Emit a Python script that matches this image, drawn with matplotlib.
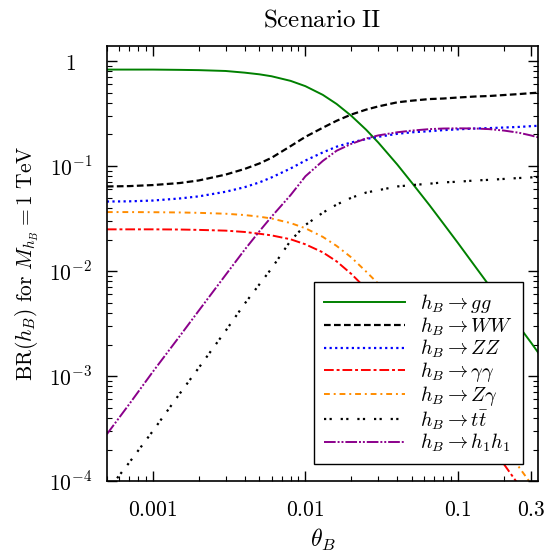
import matplotlib
matplotlib.use('Agg')
import matplotlib.pyplot as plt
import matplotlib.ticker as mticker

plt.rcParams['mathtext.fontset'] = 'cm'
plt.rcParams['font.family'] = 'serif'
plt.rcParams['font.serif'] = ['DejaVu Serif']

theta = [0.0005, 0.0007, 0.001, 0.0015, 0.002, 0.003, 0.004, 0.005, 0.006, 0.008,
         0.01, 0.013, 0.016, 0.02, 0.025, 0.03, 0.04, 0.05, 0.065, 0.08,
         0.1, 0.13, 0.16, 0.2, 0.25, 0.3, 0.335]

br_gg = [0.83, 0.83, 0.83, 0.825, 0.82, 0.805, 0.776, 0.748, 0.717, 0.648,
         0.577, 0.477, 0.391, 0.301, 0.222, 0.168, 0.1035, 0.069, 0.0425, 0.0285,
         0.0185, 0.011, 0.0073, 0.0047, 0.003, 0.0021, 0.00168]
br_ww = [0.064, 0.0645, 0.066, 0.069, 0.073, 0.083, 0.094, 0.106, 0.12, 0.155,
         0.19, 0.232, 0.27, 0.31, 0.345, 0.37, 0.405, 0.42, 0.435, 0.44,
         0.45, 0.46, 0.465, 0.475, 0.485, 0.495, 0.50]
br_zz = [0.046, 0.0462, 0.047, 0.0492, 0.0515, 0.057, 0.063, 0.07, 0.078, 0.095,
         0.113, 0.135, 0.153, 0.168, 0.181, 0.19, 0.203, 0.21, 0.215, 0.22,
         0.224, 0.228, 0.23, 0.233, 0.236, 0.24, 0.242]
br_aa = [0.025, 0.025, 0.025, 0.0249, 0.0247, 0.0243, 0.0236, 0.0227, 0.0219, 0.0201,
         0.018, 0.0151, 0.0124, 0.0094, 0.0068, 0.0051, 0.0031, 0.0021, 0.00127, 0.00085,
         0.00057, 0.00034, 0.00022, 0.000145, 0.000092, 0.00006, 0.000048]
br_za = [0.0365, 0.0365, 0.0364, 0.0362, 0.0359, 0.0352, 0.0342, 0.033, 0.0317, 0.0287,
         0.0256, 0.0212, 0.0174, 0.0135, 0.0099, 0.0076, 0.0047, 0.0031, 0.00193, 0.00129,
         0.00083, 0.0005, 0.00033, 0.000213, 0.000137, 0.000095, 0.000076]
br_tt = [0.00008, 0.00015, 0.0003, 0.00068, 0.0012, 0.0027, 0.0049, 0.0075, 0.0106, 0.0195,
         0.0275, 0.036, 0.043, 0.050, 0.056, 0.059, 0.064, 0.066, 0.068, 0.07,
         0.071, 0.073, 0.074, 0.0755, 0.077, 0.078, 0.079]
br_hh = [0.00028, 0.00054, 0.0011, 0.0024, 0.0042, 0.0092, 0.016, 0.024, 0.033, 0.053,
         0.08, 0.112, 0.14, 0.163, 0.183, 0.196, 0.21, 0.218, 0.225, 0.228,
         0.229, 0.228, 0.225, 0.218, 0.208, 0.196, 0.188]

fig = plt.figure(figsize=(5.48, 5.55), dpi=100)
ax = fig.add_axes([0.195, 0.133, 0.787, 0.784])

ax.plot(theta, br_gg, color='green', lw=1.4, ls='-', label=r'$h_B \rightarrow gg$')
ax.plot(theta, br_ww, color='black', lw=1.6, ls=(0, (3, 1.5)), label=r'$h_B \rightarrow WW$')
ax.plot(theta, br_zz, color='blue', lw=1.6, ls=(0, (1, 1.5)), label=r'$h_B \rightarrow ZZ$')
ax.plot(theta, br_aa, color='red', lw=1.4, ls=(0, (5, 1.5, 1.5, 1.5)), label=r'$h_B \rightarrow \gamma\gamma$')
ax.plot(theta, br_za, color='darkorange', lw=1.4, ls=(0, (3, 2, 1, 2)), label=r'$h_B \rightarrow Z\gamma$')
ax.plot(theta, br_tt, color='black', lw=1.6, ls=(0, (1, 1.5, 1, 4)), label=r'$h_B \rightarrow t\bar{t}$')
ax.plot(theta, br_hh, color='darkmagenta', lw=1.4, ls=(0, (6, 1, 1, 1, 1, 1)), label=r'$h_B \rightarrow h_1 h_1$')

ax.set_xscale('log')
ax.set_yscale('log')
ax.set_xlim(0.0005, 0.335)
ax.set_ylim(1e-4, 1.39)

ax.xaxis.set_major_locator(mticker.FixedLocator([0.001, 0.01, 0.1, 0.3]))
ax.xaxis.set_major_formatter(mticker.FixedFormatter([r'$0.001$', r'$0.01$', r'$0.1$', r'$0.3$']))
ax.xaxis.set_minor_locator(mticker.LogLocator(base=10, subs=range(2, 10), numticks=20))
ax.xaxis.set_minor_formatter(mticker.NullFormatter())
ax.yaxis.set_major_locator(mticker.FixedLocator([1e-4, 1e-3, 1e-2, 1e-1, 1]))
ax.yaxis.set_major_formatter(mticker.FixedFormatter([r'$10^{-4}$', r'$10^{-3}$', r'$10^{-2}$', r'$10^{-1}$', r'$1$']))
ax.yaxis.set_minor_locator(mticker.LogLocator(base=10, subs=range(2, 10), numticks=20))
ax.yaxis.set_minor_formatter(mticker.NullFormatter())

ax.tick_params(which='both', direction='in', top=True, right=True, labelsize=15.5)
ax.tick_params(which='major', length=7, width=1)
ax.tick_params(which='minor', length=3.5, width=0.8)
ax.tick_params(axis='x', pad=13)
ax.tick_params(axis='y', pad=26)
for lab in ax.get_yticklabels():
    lab.set_horizontalalignment('center')
for s in ax.spines.values():
    s.set_linewidth(1.2)

ax.set_xlabel(r'$\theta_B$', fontsize=17)
ax.set_ylabel(r'$\mathrm{BR}(h_B)\ \mathrm{for}\ M_{h_B} = 1\ \mathrm{TeV}$', fontsize=15.5, labelpad=6)
ax.set_title(r'$\mathrm{Scenario\ II}$', fontsize=18, pad=14)

leg = ax.legend(loc='lower right', bbox_to_anchor=(0.965, 0.039), borderaxespad=0,
                fontsize=14.5, fancybox=False, framealpha=1, edgecolor='black',
                labelspacing=0.0, handlelength=4.0, borderpad=0.5, handletextpad=0.75)
leg.get_frame().set_linewidth(1.0)

fig.savefig('out.png', dpi=100)
